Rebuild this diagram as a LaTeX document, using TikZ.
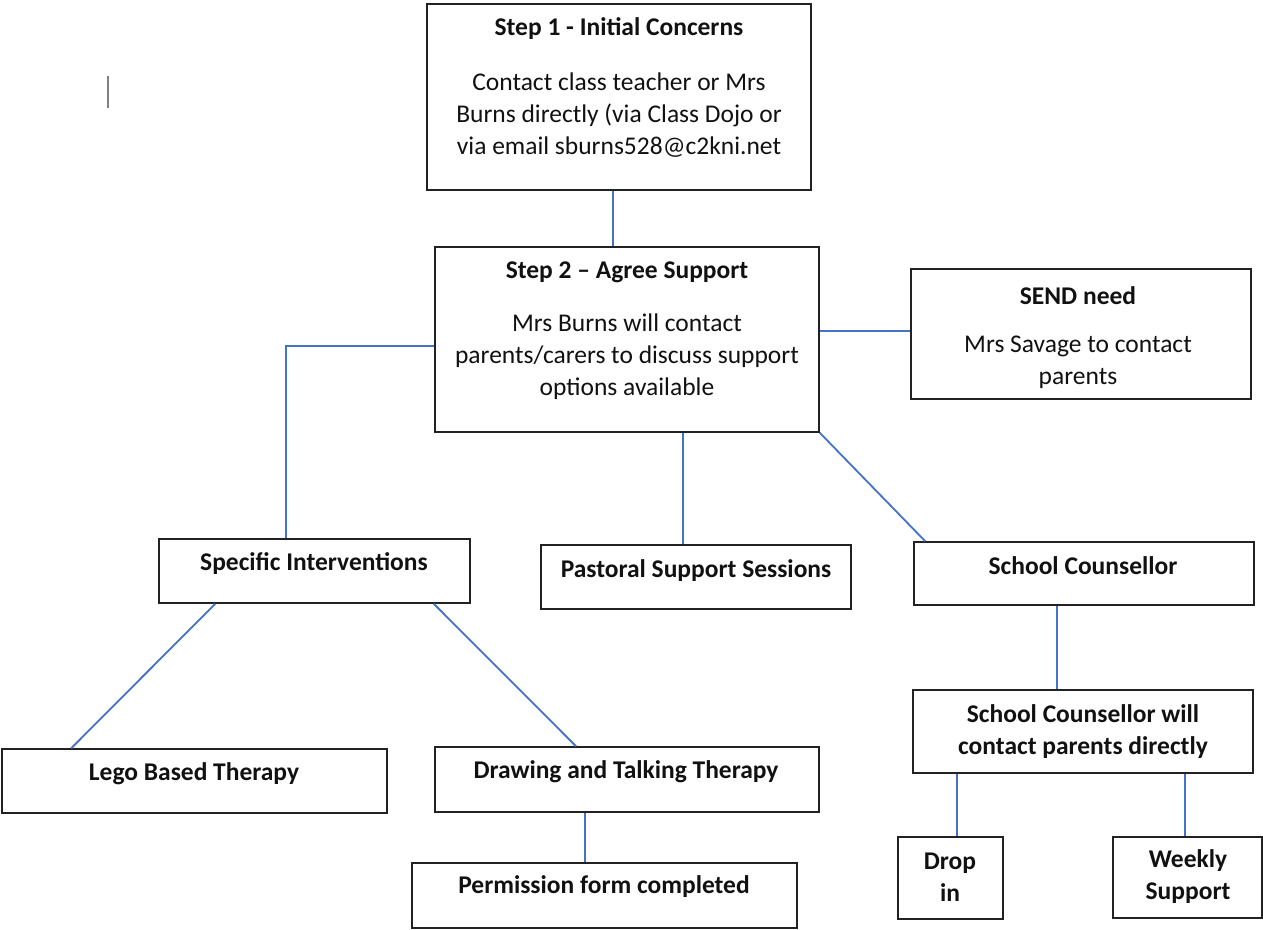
\documentclass[tikz,border=0pt]{standalone}
\usepackage{fontspec}
\setmainfont{Carlito}
\definecolor{linkblue}{HTML}{4472C4}
\definecolor{boxline}{HTML}{222222}
\definecolor{txt}{HTML}{111111}
\tikzset{
  box/.style={draw=boxline, line width=1.5pt, fill=none, inner sep=0pt, rectangle},
  title/.style={font=\fontsize{25.5}{32}\selectfont\bfseries, text=txt, align=center, inner sep=0pt},
  body/.style={font=\fontsize{25.5}{32}\selectfont, text=txt, align=center, inner sep=0pt},
  link/.style={draw=linkblue, line width=1.8pt},
}
\begin{document}
\begin{tikzpicture}[x=1pt,y=-1pt]
\useasboundingbox (0,0) rectangle (1263,929);
% boxes
\node[box, minimum width=384pt, minimum height=186pt] (s1) at (619,97) {};
\node[box, minimum width=384pt, minimum height=185pt] (s2) at (627,339.5) {};
\node[box, minimum width=340pt, minimum height=130pt] (send) at (1081,334) {};
\node[box, minimum width=311pt, minimum height=64pt] (spec) at (314.5,571) {};
\node[box, minimum width=310pt, minimum height=64pt] (past) at (696,577) {};
\node[box, minimum width=340pt, minimum height=63pt] (sc) at (1084,573.5) {};
\node[box, minimum width=340pt, minimum height=83pt] (scc) at (1083,731.5) {};
\node[box, minimum width=385pt, minimum height=64pt] (lego) at (194.5,781) {};
\node[box, minimum width=384pt, minimum height=65pt] (draw) at (627,779.5) {};
\node[box, minimum width=385pt, minimum height=65pt] (perm) at (604.5,895.5) {};
\node[box, minimum width=105pt, minimum height=82pt] (drop) at (950.5,878) {};
\node[box, minimum width=149pt, minimum height=81pt] (weekly) at (1187.5,877.5) {};
% texts
\node[title] (t1) at (619,29) {Step 1 - Initial Concerns};
\node[body] (b1) at (619,115) {Contact class teacher or Mrs\\Burns directly (via Class Dojo or\\via email sburns528@c2kni.net};
\node[title] (t2) at (627,272) {Step 2 – Agree Support};
\node[body] (b2) at (627,357) {Mrs Burns will contact\\parents/carers to discuss support\\options available};
\node[title] (t3) at (1078,296) {SEND need};
\node[body] (b3) at (1078,362) {Mrs Savage to contact\\parents};
\node[title] (t4) at (314,564) {Specific Interventions};
\node[title] (t5) at (696,571) {Pastoral Support Sessions};
\node[title] (t6) at (1083,566) {School Counsellor};
\node[title] (t7) at (1083,731.5) {School Counsellor will\\contact parents directly};
\node[title] (t8) at (194,774) {Lego Based Therapy};
\node[title] (t9) at (626,772) {Drawing and Talking Therapy};
\node[title] (t10) at (604,887) {Permission form completed};
\node[title] (t11) at (950,877) {Drop\\in};
\node[title] (t12) at (1188,877) {Weekly\\Support};
% cursor mark
\coordinate (cura) at (108,76);
\coordinate (curb) at (108,108);
\draw[draw=gray, line width=1.5pt] (cura) -- (curb);
% connectors
\draw[link] ([xshift=-6pt]s1.south) -- ([xshift=-6pt]s1.south |- s2.north);
\draw[link] ([yshift=-6.5pt]s2.west) -| ([xshift=-28.5pt]spec.north);
\draw[link] ([yshift=8.5pt]s2.east) -- ([yshift=8.5pt]s2.east -| send.west);
\draw[link] ([xshift=56pt]s2.south) -- ([xshift=56pt]s2.south |- past.north);
\draw[link] (s2.south east) -- ([xshift=12pt]sc.north west);
\draw[link] ([xshift=57pt]spec.south west) -- ([xshift=70pt]lego.north west);
\draw[link] ([xshift=-37pt]spec.south east) -- ([xshift=-51pt]draw.north);
\draw[link] ([xshift=-42pt]draw.south) -- ([xshift=-42pt]draw.south |- perm.north);
\draw[link] ([xshift=-27pt]sc.south) -- ([xshift=-27pt]sc.south |- scc.north);
\draw[link] ([xshift=45pt]scc.south west) -- ([xshift=45pt]scc.south west |- drop.north);
\draw[link] ([xshift=-69pt]scc.south east) -- ([xshift=-69pt]scc.south east |- weekly.north);
\end{tikzpicture}
\end{document}
